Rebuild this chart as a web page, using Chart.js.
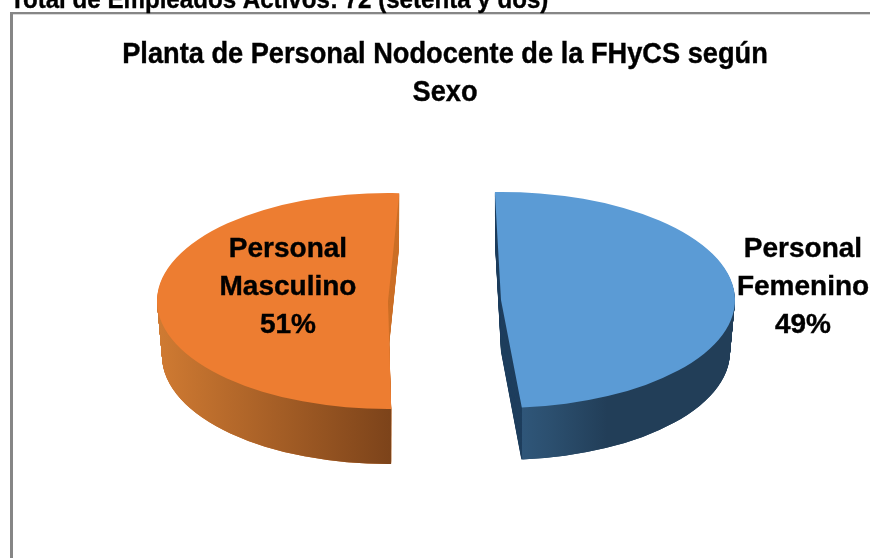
<!DOCTYPE html>
<html><head><meta charset="utf-8">
<style>html,body{margin:0;padding:0;background:#fff;overflow:hidden}canvas{display:block}</style>
<script src="https://cdn.jsdelivr.net/npm/chart.js@4"></script>
</head><body><canvas id="c" width="870" height="558"></canvas>
<script>
const categories = ["Personal Femenino", "Personal Masculino"];
const values = [49, 51];
const labelLines = [["Personal", "Femenino", "49%"], ["Personal", "Masculino", "51%"]];
const chartTitle = ["Planta de Personal Nodocente de la FHyCS según", "Sexo"];
const headerText = "Total de Empleados Activos: 72 (setenta y dos)";

const FONT = '"Liberation Sans",Arial,sans-serif';
const sliceStyle = [
  {top:"#5b9bd5", strip:"#1f3f5e", side:[[0,"#2f5679"],[0.12,"#2c5070"],[0.4,"#223e58"],[1,"#223e58"]],
   gradFrom:522, gradTo:735, clips:[[522.5,0,348,558]], cx:501, cy:300, rx:234, ry:108, rot:-1.5, depth:52, shrink:5, lx:803, ly:247},
  {top:"#ed7d31", strip:"#cc7028", side:[[0,"#cf7a32"],[1,"#7c431a"]],
   gradFrom:160, gradTo:392, clips:[[0,300,380,258],[380,400,11.5,158]], cx:388, cy:301, rx:231, ry:108, rot:2.8, depth:55, shrink:5, lx:288, ly:247}
];

function squeezedText(ctx, text, x, y, size, sx, align) {
  ctx.save();
  ctx.translate(x, y);
  ctx.scale(sx, 1);
  ctx.fillStyle = "#000";
  ctx.strokeStyle = "#000";
  ctx.lineWidth = 0.4;
  ctx.font = "bold " + size + "px " + FONT;
  ctx.textAlign = align;
  ctx.textBaseline = "alphabetic";
  ctx.fillText(text, 0, 0);
  ctx.strokeText(text, 0, 0);
  ctx.restore();
}

const pie3d = {
  id: "pie3d",
  beforeDatasetsDraw(chart) {
    const ctx = chart.ctx;
    ctx.save();
    ctx.fillStyle = "#d9d9d9"; ctx.fillRect(12, 14, 858, 1);
    ctx.fillStyle = "#868686"; ctx.fillRect(10, 12, 860, 2); ctx.fillRect(10, 12, 3, 546);
    ctx.restore();
    squeezedText(ctx, headerText, 10, 8, 26.6, 0.907, "left");
    chartTitle.forEach((t, j) => squeezedText(ctx, t, 445, 63 + j * 38, 30, 0.907, "center"));

    const arcs = chart.getDatasetMeta(0).data;
    const place = (arc, s, d) => {
      const k = arc.outerRadius;
      ctx.translate(s.cx, s.cy + d);
      ctx.scale((s.rx - s.shrink * d / s.depth) / k, s.ry / k);
      ctx.rotate(s.rot * Math.PI / 180);
      ctx.translate(-arc.x, -arc.y);
    };
    arcs.forEach((arc, i) => {
      const s = sliceStyle[i], base = arc.options.backgroundColor;
      // cut face
      for (let d = s.depth; d >= 1; d--) {
        ctx.save(); place(arc, s, d);
        arc.options.backgroundColor = s.strip;
        arc.draw(ctx); ctx.restore();
      }
      // curved rim, with its horizontal shading
      ctx.save();
      ctx.beginPath();
      s.clips.forEach(r => ctx.rect(r[0], r[1], r[2], r[3]));
      ctx.clip();
      for (let d = s.depth; d >= 1; d--) {
        ctx.save(); place(arc, s, d);
        const inv = ctx.getTransform().inverse();
        const p0 = inv.transformPoint({x: s.gradFrom, y: 300});
        const p1 = inv.transformPoint({x: s.gradTo, y: 300});
        const lg = ctx.createLinearGradient(p0.x, p0.y, p1.x, p1.y);
        s.side.forEach(c => lg.addColorStop(c[0], c[1]));
        arc.options.backgroundColor = lg;
        arc.draw(ctx); ctx.restore();
      }
      ctx.restore();
      // top face
      ctx.save(); place(arc, s, 0);
      arc.options.backgroundColor = base;
      arc.draw(ctx); ctx.restore();
      // label
      labelLines[i].forEach((t, j) => squeezedText(ctx, t, s.lx, s.ly + 10 + j * 38, 28, 1, "center"));
    });
    return false;
  }
};

new Chart(document.getElementById("c"), {
  type: "pie",
  data: { labels: categories, datasets: [{ data: values, backgroundColor: sliceStyle.map(s => s.top), borderWidth: 0 }] },
  options: {
    responsive: false, animation: false,
    plugins: { legend: { display: false }, tooltip: { enabled: false }, title: { display: false } }
  },
  plugins: [pie3d]
});
</script></body></html>
